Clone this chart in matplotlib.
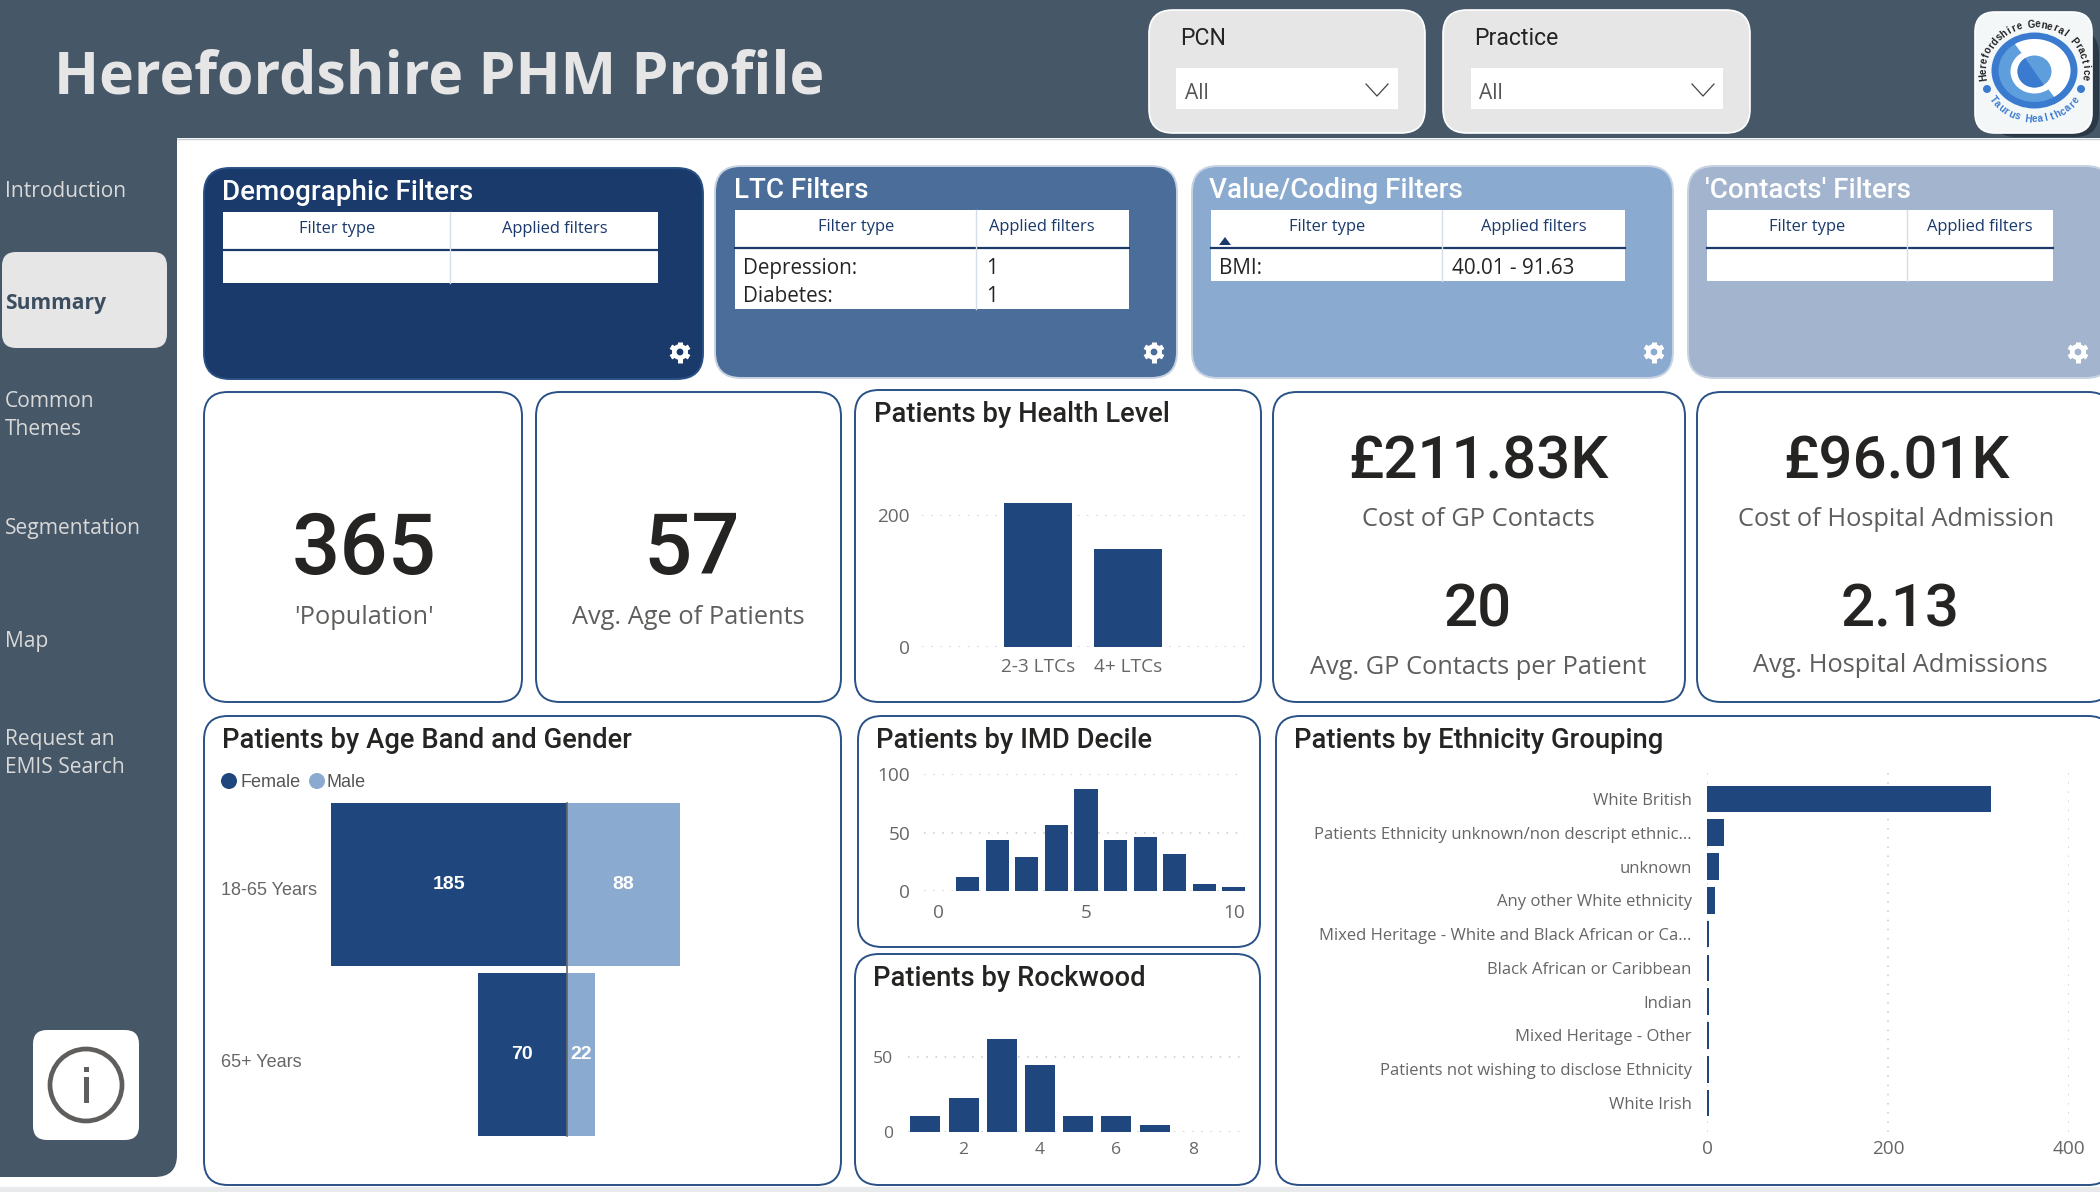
import numpy as np
import matplotlib
matplotlib.use("Agg")
import matplotlib.pyplot as plt
from matplotlib.patches import FancyBboxPatch, Rectangle, Circle, Ellipse, Polygon

W, H = 2100, 1192
HEAD, BODY, ARIAL = "Roboto", "Open Sans", "Liberation Sans"
NAVY, BAR, LIGHT, SLATE = "#1a3a6c", "#1f477e", "#8aaacf", "#465768"
EDGE = "#2a5186"

# ---------- data ----------
age_bands = ["18-65 Years", "65+ Years"]
female = [185, 70]
male = [88, 22]
health_levels = ["2-3 LTCs", "4+ LTCs"]
health_values = [218, 149]
imd_deciles = [1, 2, 3, 4, 5, 6, 7, 8, 9, 10]
imd_values = [12, 44, 29, 56, 87, 44, 46, 32, 6, 3]
rockwood_scores = [1, 2, 3, 4, 5, 6, 7]
rockwood_values = [11, 23, 62, 45, 11, 11, 5]
ethnicities = ["White British", "Patients Ethnicity unknown/non descript ethnic...", "unknown",
               "Any other White ethnicity", "Mixed Heritage - White and Black African or Ca...",
               "Black African or Caribbean", "Indian", "Mixed Heritage - Other",
               "Patients not wishing to disclose Ethnicity", "White Irish"]
ethnicity_values = [314, 19, 13, 9, 2, 2, 2, 2, 2, 2]
nav_items = [("Introduction", 189), ("Common", 399), ("Themes", 427), ("Segmentation", 526),
             ("Map", 639), ("Request an", 737), ("EMIS Search", 765)]

fig = plt.figure(figsize=(W / 100, H / 100), dpi=100, facecolor="white")
bg = fig.add_axes([0, 0, 1, 1])
bg.set_xlim(0, W)
bg.set_ylim(H, 0)
bg.axis("off")


def rbox(x0, y0, x1, y1, r, fc, ec="none", lw=1.5, z=1):
    bg.add_patch(FancyBboxPatch((x0, y0), x1 - x0, y1 - y0, boxstyle=f"round,pad=0,rounding_size={r}",
                                fc=fc, ec=ec, lw=lw, zorder=z))


def txt(x, y, s, px, color="#333333", family=BODY, ha="left", va="center", weight="normal", z=5):
    return bg.text(x, y + 0.1 * px, s, fontsize=px * 0.72, color=color, family=family, ha=ha, va=va,
                   weight=weight, zorder=z)


def px_axes(x0, y0, x1, y1):
    a = fig.add_axes([x0 / W, 1 - y1 / H, (x1 - x0) / W, (y1 - y0) / H])
    a.patch.set_alpha(0)
    for s in a.spines.values():
        s.set_visible(False)
    return a


def gear(x, y, fc):
    bg.add_patch(Circle((x, y), 8, fc="white", ec="none", zorder=6))
    for ang in range(0, 180, 60):
        t = np.radians(ang + 90)
        bg.plot([x - 10.5 * np.cos(t), x + 10.5 * np.cos(t)], [y - 10.5 * np.sin(t), y + 10.5 * np.sin(t)],
                color="white", lw=3.6, solid_capstyle="butt", zorder=6)
    bg.add_patch(Circle((x, y), 3.4, fc=fc, ec="none", zorder=7))


def half_ellipse(cx, cy, rx, ry, t0, t1, fc, z):
    t = np.radians(np.linspace(t0, t1, 60))
    bg.add_patch(Polygon(np.column_stack([cx + rx * np.cos(t), cy + ry * np.sin(t)]), fc=fc, ec="none", zorder=z))


# ---------- chrome ----------
bg.add_patch(Rectangle((0, 1187), W, 5, fc="#e9eaeb", ec="none", zorder=0))
bg.add_patch(Rectangle((0, 0), W, 138, fc=SLATE, ec="none", zorder=1))
bg.plot([177, W], [138.5, 138.5], color="#c9ccd0", lw=1, zorder=1)
rbox(0, 100, 177, 1177, 22, SLATE)
bg.add_patch(Rectangle((0, 100), 60, 1077, fc=SLATE, ec="none", zorder=1))
txt(54, 72, "Herefordshire PHM Profile", 59, "#e6e6e6", family="Open Sans", weight="bold")

rbox(2, 252, 167, 348, 14, "#e6e6e6", z=2)
txt(5, 301, "Summary", 21, "#3c4d60", weight="bold")
for label, y in nav_items:
    txt(5, y, label, 21, "#d9d9d9")

rbox(33, 1030, 139, 1140, 14, "white", z=2)
bg.add_patch(Circle((86, 1085), 36, fc="none", ec="#605e5c", lw=3.4, zorder=3))
bg.add_patch(Rectangle((83.5, 1067), 5, 5, fc="#605e5c", ec="none", zorder=3))
bg.add_patch(Rectangle((83.5, 1077), 5, 26, fc="#605e5c", ec="none", zorder=3))

# ---------- slicers ----------
for x0, x1, bx0, bx1, name, tx, ax_, cx in [(1149, 1425, 1176, 1398, "PCN", 1180, 1185, 1377),
                                            (1443, 1750, 1471, 1723, "Practice", 1474, 1479, 1703)]:
    rbox(x0, 10, x1, 133, 24, "#e6e6e6", ec="white", lw=1.2, z=2)
    bg.add_patch(Rectangle((bx0, 68), bx1 - bx0, 41, fc="white", ec="none", zorder=3))
    txt(tx, 36, name, 23, "#252423", family=HEAD)
    txt(ax_, 91, "All", 21, "#555555")
    bg.plot([cx - 11, cx, cx + 11], [84, 96, 84], color="#444444", lw=0.9, zorder=5)

# ---------- logo ----------
CX, CY = 2034.5, 70.5
rbox(1992, 30, 2099, 137, 24, "#2b3846", z=1.5)
rbox(1975, 12, 2092, 133, 20, "#f4f7f8", ec="white", lw=1.2, z=2)
bg.add_patch(Ellipse((CX, CY), 86, 76, fc="#3a7bd0", ec="none", zorder=3))
bg.add_patch(Ellipse((CX, CY), 72, 63, fc="#5f9edc", ec="none", zorder=3))
half_ellipse(CX, CY, 36, 31.5, -123, 57, "white", 3)
bg.add_patch(Ellipse((CX, CY + 1), 48, 44, fc="white", ec="none", zorder=4))
bg.add_patch(Ellipse((CX, CY + 1), 34, 32, fc="#5f9edc", ec="none", zorder=4))
half_ellipse(CX, CY + 1, 17, 16, 57, 237, "#3a7bd0", 4)
bg.add_patch(Circle((1987, 89), 4, fc="#3a7bd0", ec="none", zorder=4))
bg.add_patch(Circle((2081, 89), 4, fc="#3a7bd0", ec="none", zorder=4))
for s, a0, a1, rx, ry, col in [("Herefordshire General Practice", 172, 368, 51, 46, "#222222"),
                               ("Taurus Healthcare", 143, 37, 52, 49, "#3a7bd0")]:
    for i, ch in enumerate(s):
        a = np.radians(a0 + (a1 - a0) * i / (len(s) - 1))
        rot = -np.degrees(a) - 90 if a0 < a1 else -np.degrees(a) + 90
        bg.text(CX + rx * np.cos(a), CY + ry * np.sin(a), ch, fontsize=7.0, color=col, family=ARIAL,
                weight="bold", ha="center", va="center", rotation=rot, zorder=5)

# ---------- filter cards ----------
cards = [
    (204, 168, 703, 379, NAVY, "Demographic Filters", 222, 190, (223, 212, 658, 283, 250, 450), (337, 555, 227), 680),
    (715, 166, 1177, 378, "#4a6d9a", "LTC Filters", 734, 188, (735, 210, 1129, 309, 248, 976), (856, 1042, 225), 1154),
    (1192, 166, 1673, 378, LIGHT, "Value/Coding Filters", 1209, 188, (1211, 210, 1625, 281, 248, 1442), (1327, 1534, 225), 1654),
    (1688, 166, 2112, 378, "#a3b5ce", "'Contacts' Filters", 1705, 188, (1707, 210, 2053, 281, 248, 1907), (1807, 1980, 225), 2078),
]
for x0, y0, x1, y1, fc, title, tx, ty, tb, hd, gx in cards:
    rbox(x0, y0, x1, y1, 26, fc, ec=EDGE if fc == NAVY else "#c8d3e2", lw=1.4, z=2)
    txt(tx, ty, title, 27.7, "white", family=HEAD, weight="medium")
    tx0, ty0, tx1, ty1, ly, sx = tb
    bg.add_patch(Rectangle((tx0, ty0), tx1 - tx0, ty1 - ty0, fc="white", ec="none", zorder=3))
    bg.plot([tx0, tx1], [ly, ly], color=NAVY, lw=1.6, zorder=4)
    bg.plot([sx, sx], [ty0, ty1], color="#d5dde8", lw=1, zorder=4)
    txt(hd[0], hd[2], "Filter type", 16.5, NAVY, ha="center")
    txt(hd[1], hd[2], "Applied filters", 16.5, NAVY, ha="center")
    gear(gx, 352, fc)

for x, y, s in [(743, 266, "Depression:"), (743, 294, "Diabetes:"), (986, 266, "1"), (986, 294, "1"),
                (1219, 266, "BMI:"), (1452, 266, "40.01 - 91.63")]:
    txt(x, y, s, 20.6, "#252423")
bg.add_patch(Polygon([(1219, 245), (1231, 245), (1225, 237)], fc=NAVY, ec="none", zorder=5))

# ---------- white cards ----------
for x0, y0, x1, y1 in [(204, 392, 522, 702), (536, 392, 841, 702), (855, 390, 1261, 702),
                       (1273, 392, 1685, 702), (1697, 392, 2112, 702), (204, 716, 841, 1185),
                       (858, 716, 1260, 947), (855, 954, 1260, 1185), (1276, 716, 2112, 1185)]:
    rbox(x0, y0, x1, y1, 24, "white", ec=EDGE, lw=1.4, z=2)

big = "#252423"
sub = "#605e5c"
txt(364, 542, "365", 85, big, family=HEAD, ha="center", weight="medium")
txt(364, 615, "'Population'", 25.4, sub, ha="center")
txt(692, 542, "57", 85, big, family=HEAD, ha="center", weight="medium")
txt(688, 615, "Avg. Age of Patients", 25.4, sub, ha="center")
txt(1478, 456, "£211.83K", 60, big, family=HEAD, ha="center", weight="medium")
txt(1478, 517, "Cost of GP Contacts", 25.4, sub, ha="center")
txt(1478, 604, "20", 60, big, family=HEAD, ha="center", weight="medium")
txt(1478, 665, "Avg. GP Contacts per Patient", 25.4, sub, ha="center")
txt(1896, 456, "£96.01K", 60, big, family=HEAD, ha="center", weight="medium")
txt(1896, 517, "Cost of Hospital Admission", 25.4, sub, ha="center")
txt(1900, 604, "2.13", 60, big, family=HEAD, ha="center", weight="medium")
txt(1900, 663, "Avg. Hospital Admissions", 25.4, sub, ha="center")

for x, y, s in [(874, 412, "Patients by Health Level"), (222, 738, "Patients by Age Band and Gender"),
                (876, 738, "Patients by IMD Decile"), (873, 976, "Patients by Rockwood"),
                (1294, 738, "Patients by Ethnicity Grouping")]:
    txt(x, y, s, 27.4, big, family=HEAD, weight="medium")

TICK = "#666666"


def style(a, grid="y", size=19):
    a.grid(axis=grid, color="#c8c8c8", linestyle=(0, (1, 5)), lw=1.1, zorder=0)
    a.set_axisbelow(True)
    a.tick_params(length=0, labelsize=size * 0.72, labelcolor=TICK, pad=6)
    for lab in a.get_xticklabels() + a.get_yticklabels():
        lab.set_family(BODY)


# ---------- health level ----------
a = px_axes(922, 515, 1246, 647)
a.bar(range(len(health_levels)), health_values, width=0.756, color=BAR, zorder=3, clip_on=False)
a.set_xlim(-1.289, 2.311)
a.set_ylim(0, 200)
a.set_xticks(range(len(health_levels)), health_levels)
a.set_yticks([0, 200])
style(a)
a.tick_params(axis="y", pad=9)
a.tick_params(axis="x", pad=8)

# ---------- age / gender ----------
a = px_axes(330.5, 799, 679.5, 1140)
y_pos = np.arange(len(age_bands))
a.barh(y_pos, [-v for v in female], height=0.96, color=BAR, zorder=3, label="Female")
a.barh(y_pos, male, height=0.96, color=LIGHT, zorder=3, label="Male")
a.axvline(0, color="#666666", lw=1.2, zorder=4, ymin=0.012, ymax=0.988)
a.set_xlim(-185, 88)
a.set_ylim(1.503, -0.503)
a.set_xticks([])
a.set_yticks([])
for i, (f, m) in enumerate(zip(female, male)):
    a.text(-f / 2, i, str(f), color="white", fontsize=14, family=ARIAL, weight="bold", ha="center", va="center", zorder=5)
    a.text(m / 2, i, str(m), color="white", fontsize=14, family=ARIAL, weight="bold", ha="center", va="center", zorder=5)
txt(221, 889, age_bands[0], 18, "#666666", family=ARIAL)
txt(221, 1061, age_bands[1], 18, "#666666", family=ARIAL)
bg.add_patch(Circle((229, 781), 8, fc=BAR, ec="none", zorder=5))
txt(240, 781, "Female", 18, "#555555", family=ARIAL)
bg.add_patch(Circle((317, 781), 8, fc=LIGHT, ec="none", zorder=5))
txt(327, 781, "Male", 18, "#555555", family=ARIAL)

# ---------- IMD ----------
a = px_axes(924, 774, 1245, 891)
a.bar(imd_deciles, imd_values, width=0.78, color=BAR, zorder=3)
a.set_xlim(-0.473, 10.372)
a.set_ylim(0, 100)
a.set_xticks([0, 5, 10])
a.set_yticks([0, 50, 100])
style(a)
a.tick_params(axis="y", pad=10)
a.tick_params(axis="x", pad=9)

# ---------- Rockwood ----------
a = px_axes(908, 1020, 1241, 1132)
a.bar(rockwood_scores, rockwood_values, width=0.79, color=BAR, zorder=3, clip_on=False)
a.set_xlim(2 - (963.6 - 908) / 38.2, 2 + (1241 - 963.6) / 38.2)
a.set_ylim(0, 112 / 1.5)
a.set_xticks([2, 4, 6, 8])
a.set_yticks([0, 50])
style(a, size=17.5)
a.tick_params(axis="y", pad=11)
a.tick_params(axis="x", pad=7)

# ---------- ethnicity ----------
a = px_axes(1707, 773, 2069, 1132)
yy = np.arange(len(ethnicities))
a.barh(yy, ethnicity_values, height=0.79, color=BAR, zorder=3)
a.set_xlim(0, 400)
a.set_ylim(9.86, -0.77)
a.set_xticks([0, 200, 400])
a.set_yticks(yy, ethnicities)
style(a, grid="x")
a.tick_params(axis="y", pad=11, labelsize=16.6 * 0.72)
a.tick_params(axis="x", pad=6)

fig.savefig("out.png", dpi=100)
